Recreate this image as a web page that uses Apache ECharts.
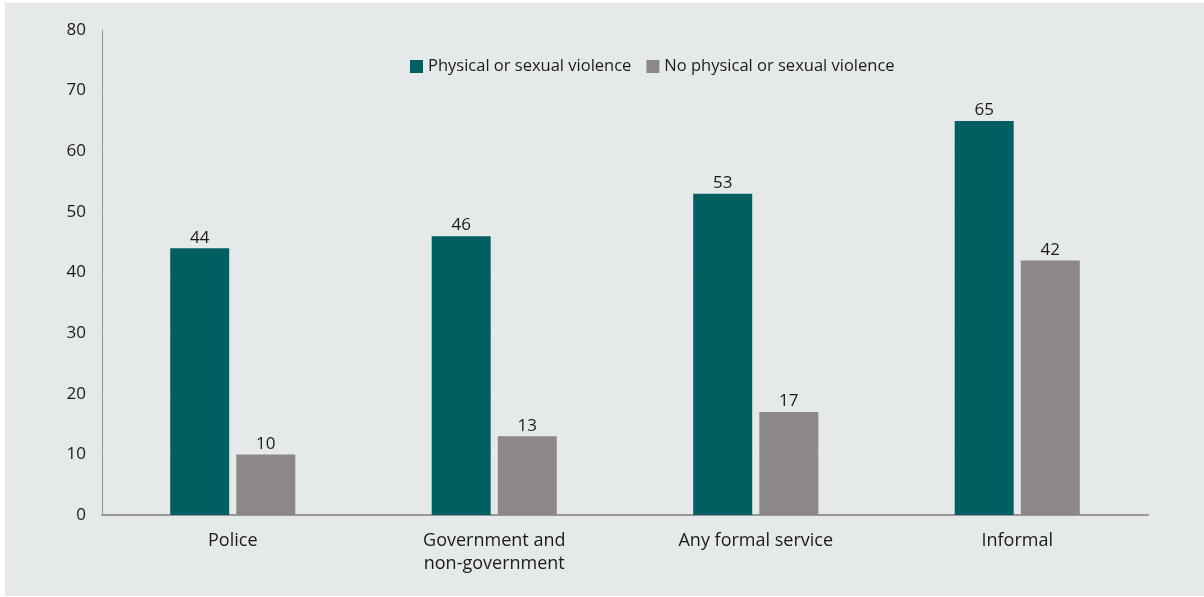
<!DOCTYPE html>
<html>
<head>
<meta charset="utf-8">
<script src="https://cdn.jsdelivr.net/npm/echarts@6/dist/echarts.min.js"></script>
<style>
html,body{margin:0;padding:0;background:#ffffff;}
#wrap{position:absolute;left:5px;top:3px;width:1199px;height:593px;background:#e6e9ea;}
#chart{position:absolute;left:0;top:0;width:1204px;height:597px;}
</style>
</head>
<body>
<div id="wrap"></div>
<div id="chart"></div>
<script>
var categories = ['Police', 'Government and\nnon-government', 'Any formal service', 'Informal'];
var seriesNames = ['Physical or sexual violence', 'No physical or sexual violence'];
var violence = [44, 46, 53, 65];
var noViolence = [10, 13, 17, 42];
var yTicks = [0, 10, 20, 30, 40, 50, 60, 70, 80];

var chart = echarts.init(document.getElementById('chart'), null, {renderer: 'canvas'});
var font = '"Open Sans", "Noto Sans", sans-serif';
chart.setOption({
  backgroundColor: 'transparent',
  animation: false,
  textStyle: {fontFamily: font},
  legend: {
    top: 53,
    left: 405,
    itemWidth: 13,
    itemHeight: 13,
    itemGap: 15,
    icon: 'rect',
    textStyle: {fontSize: 16.5, color: '#1a1a1a', fontFamily: font},
    data: seriesNames
  },
  grid: {left: 102, right: 56, top: 30, bottom: 82},
  xAxis: {
    type: 'category',
    data: categories,
    axisLine: {lineStyle: {color: '#999696', width: 2}},
    axisTick: {show: false},
    axisLabel: {fontSize: 18, color: '#1a1a1a', margin: 14, lineHeight: 23, fontFamily: font}
  },
  yAxis: {
    type: 'value',
    min: yTicks[0],
    max: yTicks[yTicks.length - 1],
    interval: 10,
    axisLine: {show: true, lineStyle: {color: '#999696', width: 1}},
    axisTick: {show: false},
    splitLine: {show: true, lineStyle: {color: '#e9ebec', width: 1}},
    axisLabel: {fontSize: 17, color: '#1a1a1a', margin: 16, fontFamily: font}
  },
  series: [
    {
      name: seriesNames[0],
      type: 'bar',
      data: violence,
      barWidth: 59,
      barGap: '12%',
      itemStyle: {color: '#015f62'},
      label: {show: true, position: 'top', distance: 2, fontSize: 17, color: '#1a1a1a', fontFamily: font}
    },
    {
      name: seriesNames[1],
      type: 'bar',
      data: noViolence,
      barWidth: 59,
      barGap: '12%',
      itemStyle: {color: '#8c8888'},
      label: {show: true, position: 'top', distance: 2, fontSize: 17, color: '#1a1a1a', fontFamily: font}
    }
  ]
});
</script>
</body>
</html>
